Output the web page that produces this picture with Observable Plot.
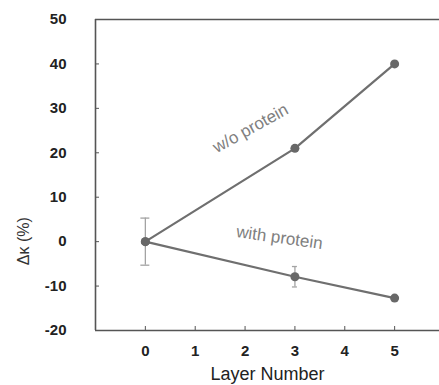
<!DOCTYPE html>
<html>
<head>
<meta charset="utf-8">
<script src="https://cdn.jsdelivr.net/npm/d3@7"></script>
<script src="https://cdn.jsdelivr.net/npm/@observablehq/plot@0.6"></script>
<style>
  html, body { margin: 0; padding: 0; background: #fff; }
  #chart svg { display: block; }
</style>
</head>
<body>
<div id="chart"></div>
<script>
const layers = [0, 3, 5];
const withoutProtein = [0, 21, 40];
const withoutErr = [5.3, 0, 0];
const withProtein = [0, -7.9, -12.7];
const withErr = [5.3, 2.3, 0];
const xTicks = [0, 1, 2, 3, 4, 5];
const yTicks = [-20, -10, 0, 10, 20, 30, 40, 50];

const rows = [];
layers.forEach((l, i) => {
  rows.push({layer: l, value: withoutProtein[i], err: withoutErr[i], series: "w/o protein"});
  rows.push({layer: l, value: withProtein[i], err: withErr[i], series: "with protein"});
});
const errRows = rows.filter(d => d.err > 0 && !(d.layer === 0 && d.series === "w/o protein"));

const axisColor = "#555";
const lineColor = "#6f6f6f";
const fmt = d => String(d);

const chart = Plot.plot({
  width: 439,
  height: 385,
  marginLeft: 95,
  marginRight: 0,
  marginTop: 19,
  marginBottom: 55,
  style: {fontFamily: "Liberation Sans, Arial, sans-serif", background: "#fff"},
  x: {domain: [-1, 5.9]},
  y: {domain: [-20, 50]},
  marks: [
    // frame lines
    Plot.ruleY([50], {stroke: axisColor, strokeWidth: 1.6}),
    Plot.ruleY([-20], {stroke: axisColor, strokeWidth: 1.6}),
    Plot.ruleX([-1], {stroke: axisColor, strokeWidth: 1.6}),
    Plot.axisY({
      ticks: yTicks, tickSize: -4, tickPadding: 33, stroke: axisColor, tickFormat: fmt,
      fontSize: 15, fontWeight: "bold", fill: "#222", label: null
    }),
    Plot.axisX({
      ticks: xTicks, tickSize: -4, tickPadding: 19, stroke: axisColor, tickFormat: fmt,
      fontSize: 15, fontWeight: "bold", fill: "#222", label: null
    }),
    // error bars
    Plot.ruleX(errRows, {x: "layer", y1: d => d.value - d.err, y2: d => d.value + d.err, stroke: "#a3a3a3", strokeWidth: 1.3}),
    Plot.ruleY(errRows, {y: d => d.value + d.err, x1: d => d.layer - (d.layer === 0 ? 0.09 : 0.05), x2: d => d.layer + (d.layer === 0 ? 0.09 : 0.05), stroke: "#a3a3a3", strokeWidth: 1.3}),
    Plot.ruleY(errRows, {y: d => d.value - d.err, x1: d => d.layer - (d.layer === 0 ? 0.09 : 0.05), x2: d => d.layer + (d.layer === 0 ? 0.09 : 0.05), stroke: "#a3a3a3", strokeWidth: 1.3}),
    // lines
    Plot.line(rows, {x: "layer", y: "value", z: "series", stroke: lineColor, strokeWidth: 2.2}),
    Plot.dot(rows, {x: "layer", y: "value", r: 4.5, fill: "#686868", stroke: "none"}),
    // annotations
    Plot.text(["w/o protein"], {x: 2.11, y: 25.5, text: d => d, rotate: -29, fontSize: 17, fill: "#808080"}),
    Plot.text(["with protein"], {x: 2.69, y: 0.9, text: d => d, rotate: 8, fontSize: 17, fill: "#808080"}),
    // axis titles
    Plot.text(["Layer Number"], {frameAnchor: "bottom", dy: 44, lineAnchor: "middle", text: d => d, fontSize: 18, fill: "#222"}),
    Plot.text(["Δκ (%)"], {x: -1, y: 0.1, dx: -72, rotate: -90, text: d => d, fontSize: 16, fill: "#333"})
  ]
});
document.getElementById("chart").appendChild(chart);
</script>
</body>
</html>
